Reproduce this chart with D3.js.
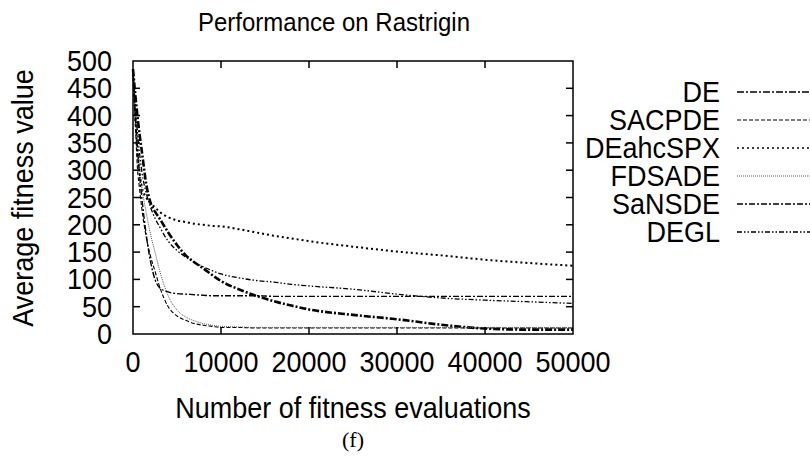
<!DOCTYPE html>
<html>
<head>
<meta charset="utf-8">
<script src="https://cdn.jsdelivr.net/npm/d3@7"></script>
<style>
  body { margin: 0; background: #fff; }
  text { font-family: "Liberation Sans", Arial, sans-serif; fill: #000; }
</style>
</head>
<body>
<div id="plot"></div>
<script>
// evaluation points shared by every series
const evals = [0, 250, 500, 750, 1000, 1500, 2000, 2500, 3000, 4000, 5000, 6000, 7000, 8000, 9000,
  10000, 12000, 14000, 16000, 18000, 20000, 25000, 30000, 35000, 40000, 45000, 50000];

const seriesNames = ["DE", "SACPDE", "DEahcSPX", "FDSADE", "SaNSDE", "DEGL"];

const deVals     = [485, 440, 400, 365, 335, 275, 240, 224, 212, 186, 163, 144, 131, 120, 108,
  97, 82, 70, 60, 52, 45, 35, 27, 17, 10, 8, 8];
const sacpdeVals = [485, 390, 305, 265, 230, 178, 142, 115, 88, 50, 33, 25, 19, 16, 14,
  12, 12, 11, 11, 11, 11, 11, 11, 11, 11, 11, 11];
const ahcVals    = [485, 400, 340, 295, 270, 250, 240, 232, 224, 214, 208, 205, 202, 200, 198,
  197, 192, 186, 180, 175, 170, 160, 151, 144, 136, 130, 125];
const fdsadeVals = [485, 410, 345, 305, 270, 222, 182, 150, 118, 70, 44, 31, 24, 19, 16,
  14, 13, 12, 12, 12, 12, 12, 12, 12, 12, 12, 12];
const sansdeVals = [485, 400, 340, 290, 250, 182, 132, 100, 85, 77, 74, 73, 72, 71, 70,
  70, 70, 70, 69, 69, 69, 69, 69, 69, 69, 69, 69];
const deglVals   = [485, 420, 370, 330, 298, 258, 232, 212, 197, 170, 153, 141, 131, 123, 116,
  110, 103, 98, 95, 91, 88, 82, 73, 66, 62, 59, 56];

const xTicks = [0, 10000, 20000, 30000, 40000, 50000];
const yTicks = [0, 50, 100, 150, 200, 250, 300, 350, 400, 450, 500];

const width = 810, height = 459;
const margin = { left: 133, right: 237, top: 61, bottom: 125 };
const stretch = 1.1; // text in the reference is slightly tall

const svg = d3.select("#plot").append("svg")
  .attr("width", width)
  .attr("height", height);

const x = d3.scaleLinear().domain([0, 50000]).range([margin.left, width - margin.right]);
const y = d3.scaleLinear().domain([0, 500]).range([height - margin.bottom, margin.top]);

// line styles (gnuplot-like dash patterns)
const styles = [
  { vals: deVals,     dash: "7,2,2,2",      w: 2.6, color: "#000" },
  { vals: sacpdeVals, dash: "4,2",          w: 1.1, color: "#000" },
  { vals: ahcVals,    dash: "2,3",          w: 2.0, color: "#000" },
  { vals: fdsadeVals, dash: "1,1",          w: 1.0, color: "#555" },
  { vals: sansdeVals, dash: "6,2,2,2",      w: 1.4, color: "#000" },
  { vals: deglVals,   dash: "5,2,1.5,2,1.5,2", w: 1.3, color: "#000" }
];

// curves
const line = d3.line()
  .x((d, i) => x(evals[i]))
  .y(d => y(d))
  .curve(d3.curveMonotoneX);

svg.append("g").selectAll("path")
  .data(styles)
  .enter()
  .append("path")
  .attr("d", d => line(d.vals))
  .attr("fill", "none")
  .attr("stroke", d => d.color)
  .attr("stroke-width", d => d.w)
  .attr("stroke-dasharray", d => d.dash);

// frame and inward ticks on all four sides
const tickLen = 7;
const frame = svg.append("g").attr("stroke", "#000").attr("stroke-width", 1.5);
frame.append("rect")
  .attr("x", x(0)).attr("y", y(500))
  .attr("width", x(50000) - x(0)).attr("height", y(0) - y(500))
  .attr("fill", "none");

xTicks.slice(1, -1).forEach(t => {
  frame.append("line").attr("x1", x(t)).attr("x2", x(t)).attr("y1", y(0)).attr("y2", y(0) - tickLen);
  frame.append("line").attr("x1", x(t)).attr("x2", x(t)).attr("y1", y(500)).attr("y2", y(500) + tickLen);
});
yTicks.slice(1, -1).forEach(t => {
  frame.append("line").attr("x1", x(0)).attr("x2", x(0) + tickLen).attr("y1", y(t)).attr("y2", y(t));
  frame.append("line").attr("x1", x(50000)).attr("x2", x(50000) - tickLen).attr("y1", y(t)).attr("y2", y(t));
});

// text placed at (px,py) baseline, stretched vertically
function label(g, px, py, str, size, anchor) {
  return g.append("text")
    .attr("transform", `translate(${px},${py}) scale(1,${stretch})`)
    .attr("text-anchor", anchor)
    .style("font-size", size + "px")
    .text(str);
}

// tick labels
const yl = svg.append("g");
yTicks.forEach(t => label(yl, 112, y(t) + 10, t, 27, "end"));
const xl = svg.append("g");
xTicks.forEach(t => label(xl, x(t), 372, t, 27, "middle"));

// titles
label(svg, 334, 31, "Performance on Rastrigin", 24, "middle");
label(svg, 353, 418, "Number of fitness evaluations", 27, "middle");

svg.append("text")
  .attr("transform", `translate(33,198) rotate(-90) scale(1,${stretch})`)
  .attr("text-anchor", "middle")
  .style("font-size", "27px")
  .text("Average fitness value");

svg.append("text")
  .attr("x", 353).attr("y", 447)
  .attr("text-anchor", "middle")
  .style("font-family", "'Liberation Serif', 'DejaVu Serif', serif")
  .style("font-size", "22px")
  .text("(f)");

// legend
const legend = svg.append("g").selectAll("g")
  .data(styles)
  .enter()
  .append("g")
  .attr("transform", (d, i) => `translate(0,${92 + i * 28})`);

legend.append("text")
  .attr("transform", `translate(720,10) scale(1,${stretch})`)
  .attr("text-anchor", "end")
  .style("font-size", "27px")
  .text((d, i) => seriesNames[i]);

legend.append("line")
  .attr("x1", 737).attr("x2", 810)
  .attr("y1", 0).attr("y2", 0)
  .attr("stroke", d => d.color)
  .attr("stroke-width", d => Math.min(d.w, 1.6))
  .attr("stroke-dasharray", d => d.dash);
</script>
</body>
</html>
